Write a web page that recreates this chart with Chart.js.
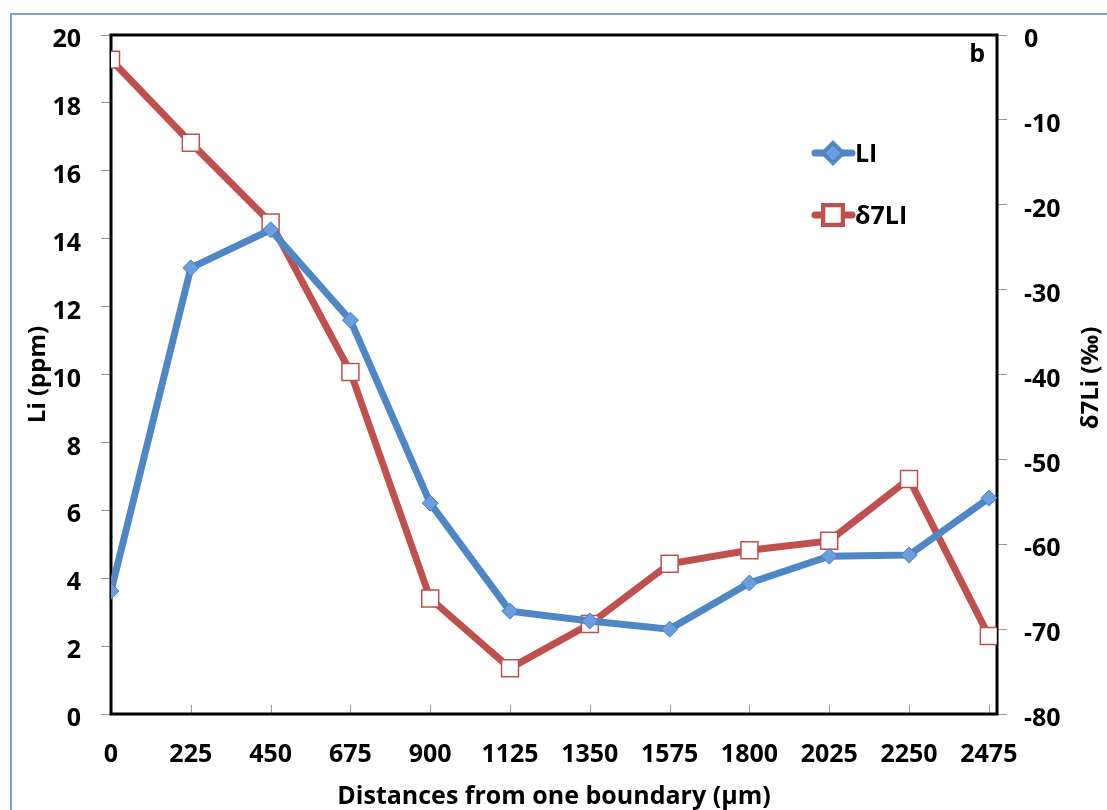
<!DOCTYPE html>
<html lang="en">
<head>
    <meta charset="UTF-8">
    <title>Li and δ7Li profile</title>
    <script src="https://cdn.jsdelivr.net/npm/chart.js"></script>
    <style>
        html, body { margin: 0; padding: 0; background: #fff; }
        #wrap { width: 1107px; height: 810px; }
    </style>
</head>
<body>
    <div id="wrap"><canvas id="liChart" width="1107" height="810"></canvas></div>
    <script>
        // Data
        const distances = [0, 225, 450, 675, 900, 1125, 1350, 1575, 1800, 2025, 2250, 2475];
        const liPpm = [3.62, 13.14, 14.26, 11.6, 6.21, 3.03, 2.74, 2.5, 3.86, 4.65, 4.68, 6.36];
        const d7Li = [-2.9, -12.7, -22.1, -39.7, -66.4, -74.6, -69.4, -62.3, -60.7, -59.6, -52.3, -70.8];
        const leftTicks = [0, 2, 4, 6, 8, 10, 12, 14, 16, 18, 20];
        const rightTicks = [-80, -70, -60, -50, -40, -30, -20, -10, 0];

        const FONT = '"Open Sans", "DejaVu Sans", sans-serif';
        const BLUE = '#4f86c6';
        const RED = '#c0504d';

        // frame, tick marks, legend, panel letter and right axis title
        const decor = {
            id: 'decor',
            beforeDraw(chart) {
                const ctx = chart.ctx;
                ctx.save();
                ctx.fillStyle = '#fff';
                ctx.fillRect(0, 0, chart.width, chart.height);
                ctx.strokeStyle = '#7aa2d6';
                ctx.lineWidth = 2;
                ctx.strokeRect(11, 14, 1200, 900);
                ctx.restore();
            },
            beforeDatasetsDraw(chart) {
                const ctx = chart.ctx;
                const a = chart.chartArea;
                const x = chart.scales.x;
                ctx.save();
                // x ticks point inward
                ctx.strokeStyle = '#999';
                ctx.lineWidth = 1;
                distances.forEach(d => {
                    const px = Math.round(x.getPixelForValue(d)) + 0.5;
                    ctx.beginPath();
                    ctx.moveTo(px, a.bottom);
                    ctx.lineTo(px, a.bottom - 9);
                    ctx.stroke();
                });
                ctx.strokeStyle = '#000';
                ctx.lineWidth = 3;
                ctx.strokeRect(a.left, a.top, a.right - a.left, a.bottom - a.top);
                ctx.restore();
            },
            afterDatasetsDraw(chart) {
                const ctx = chart.ctx;
                const a = chart.chartArea;
                ctx.save();
                ctx.font = 'bold 25px ' + FONT;
                ctx.fillStyle = '#000';
                ctx.textBaseline = 'middle';
                ctx.textAlign = 'right';
                ctx.fillText('b', a.right - 12, a.top + 20);

                ctx.textAlign = 'left';
                const items = [
                    { ds: chart.data.datasets[0], y: 153 },
                    { ds: chart.data.datasets[1], y: 215 }
                ];
                items.forEach(it => {
                    const ds = it.ds;
                    ctx.strokeStyle = ds.borderColor;
                    ctx.lineWidth = 7;
                    ctx.lineCap = 'round';
                    ctx.beginPath();
                    ctx.moveTo(815, it.y);
                    ctx.lineTo(852, it.y);
                    ctx.stroke();
                    Chart.helpers.drawPoint(ctx, {
                        pointStyle: ds.pointStyle,
                        radius: ds.pointRadius,
                        borderWidth: ds.pointBorderWidth,
                        rotation: 0
                    }, 833, it.y);
                    ctx.fillStyle = ds.pointBackgroundColor;
                    ctx.strokeStyle = ds.pointBorderColor;
                    ctx.lineWidth = ds.pointBorderWidth;
                    ctx.fill();
                    ctx.stroke();
                    ctx.fillStyle = '#000';
                    ctx.fillText(ds.label, 855, it.y + 2);
                });

                // right axis title reads bottom to top
                ctx.translate(1091, 378);
                ctx.rotate(-Math.PI / 2);
                ctx.textAlign = 'center';
                ctx.font = 'bold 24px ' + FONT;
                ctx.fillText('δ7Li (‰)', 0, 0);
                ctx.restore();
            }
        };

        const ctx = document.getElementById('liChart').getContext('2d');
        new Chart(ctx, {
            type: 'line',
            data: {
                datasets: [
                    {
                        label: 'LI',
                        data: distances.map((d, i) => ({ x: d, y: liPpm[i] })),
                        yAxisID: 'y',
                        borderColor: BLUE,
                        borderWidth: 7,
                        pointStyle: 'rectRot',
                        pointRadius: 8,
                        pointBackgroundColor: '#6a9ee0',
                        pointBorderColor: '#4a7fc0',
                        pointBorderWidth: 1,
                        tension: 0
                    },
                    {
                        label: 'δ7LI',
                        data: distances.map((d, i) => ({ x: d, y: d7Li[i] })),
                        yAxisID: 'y2',
                        borderColor: RED,
                        borderWidth: 7,
                        pointStyle: 'rect',
                        pointRadius: 12,
                        pointBackgroundColor: '#fff',
                        pointBorderColor: RED,
                        pointBorderWidth: 1.5,
                        tension: 0
                    }
                ]
            },
            options: {
                responsive: false,
                animation: false,
                layout: { padding: { top: 35, left: 0, right: 0, bottom: 0 } },
                plugins: {
                    legend: { display: false },
                    tooltip: { enabled: false }
                },
                scales: {
                    x: {
                        type: 'linear',
                        min: 0,
                        max: 2498,
                        afterBuildTicks: s => { s.ticks = distances.map(v => ({ value: v })); },
                        afterFit: s => { s.height = 96; },
                        grid: { display: false, drawTicks: false },
                        border: { display: false },
                        ticks: {
                            padding: 26,
                            color: '#000',
                            maxRotation: 0,
                            autoSkip: false,
                            callback: v => String(v),
                            font: { family: FONT, size: 25, weight: 'bold' }
                        },
                        title: {
                            display: true,
                            text: 'Distances from one boundary (µm)',
                            color: '#000',
                            padding: { top: 0, bottom: -2 },
                            font: { family: FONT, size: 25, weight: 'bold' }
                        }
                    },
                    y: {
                        position: 'left',
                        min: 0,
                        max: 20,
                        afterBuildTicks: s => { s.ticks = leftTicks.map(v => ({ value: v })); },
                        afterFit: s => { s.width = 111; },
                        grid: { drawOnChartArea: false, tickLength: 10, color: '#999' },
                        border: { display: false },
                        ticks: {
                            padding: 20,
                            labelOffset: 5,
                            color: '#000',
                            font: { family: FONT, size: 25, weight: 'bold' }
                        },
                        title: {
                            display: true,
                            text: 'Li (ppm)',
                            color: '#000',
                            padding: { top: 24, bottom: 0 },
                            font: { family: FONT, size: 24, weight: 'bold' }
                        }
                    },
                    y2: {
                        position: 'right',
                        min: -80,
                        max: 0,
                        afterBuildTicks: s => { s.ticks = rightTicks.map(v => ({ value: v })); },
                        afterFit: s => { s.width = 110; },
                        grid: { drawOnChartArea: false, tickLength: 10, color: '#999' },
                        border: { display: false },
                        ticks: {
                            padding: 17,
                            labelOffset: 5,
                            color: '#000',
                            font: { family: FONT, size: 25, weight: 'bold' }
                        },
                        title: { display: false }
                    }
                }
            },
            plugins: [decor]
        });
    </script>
</body>
</html>
